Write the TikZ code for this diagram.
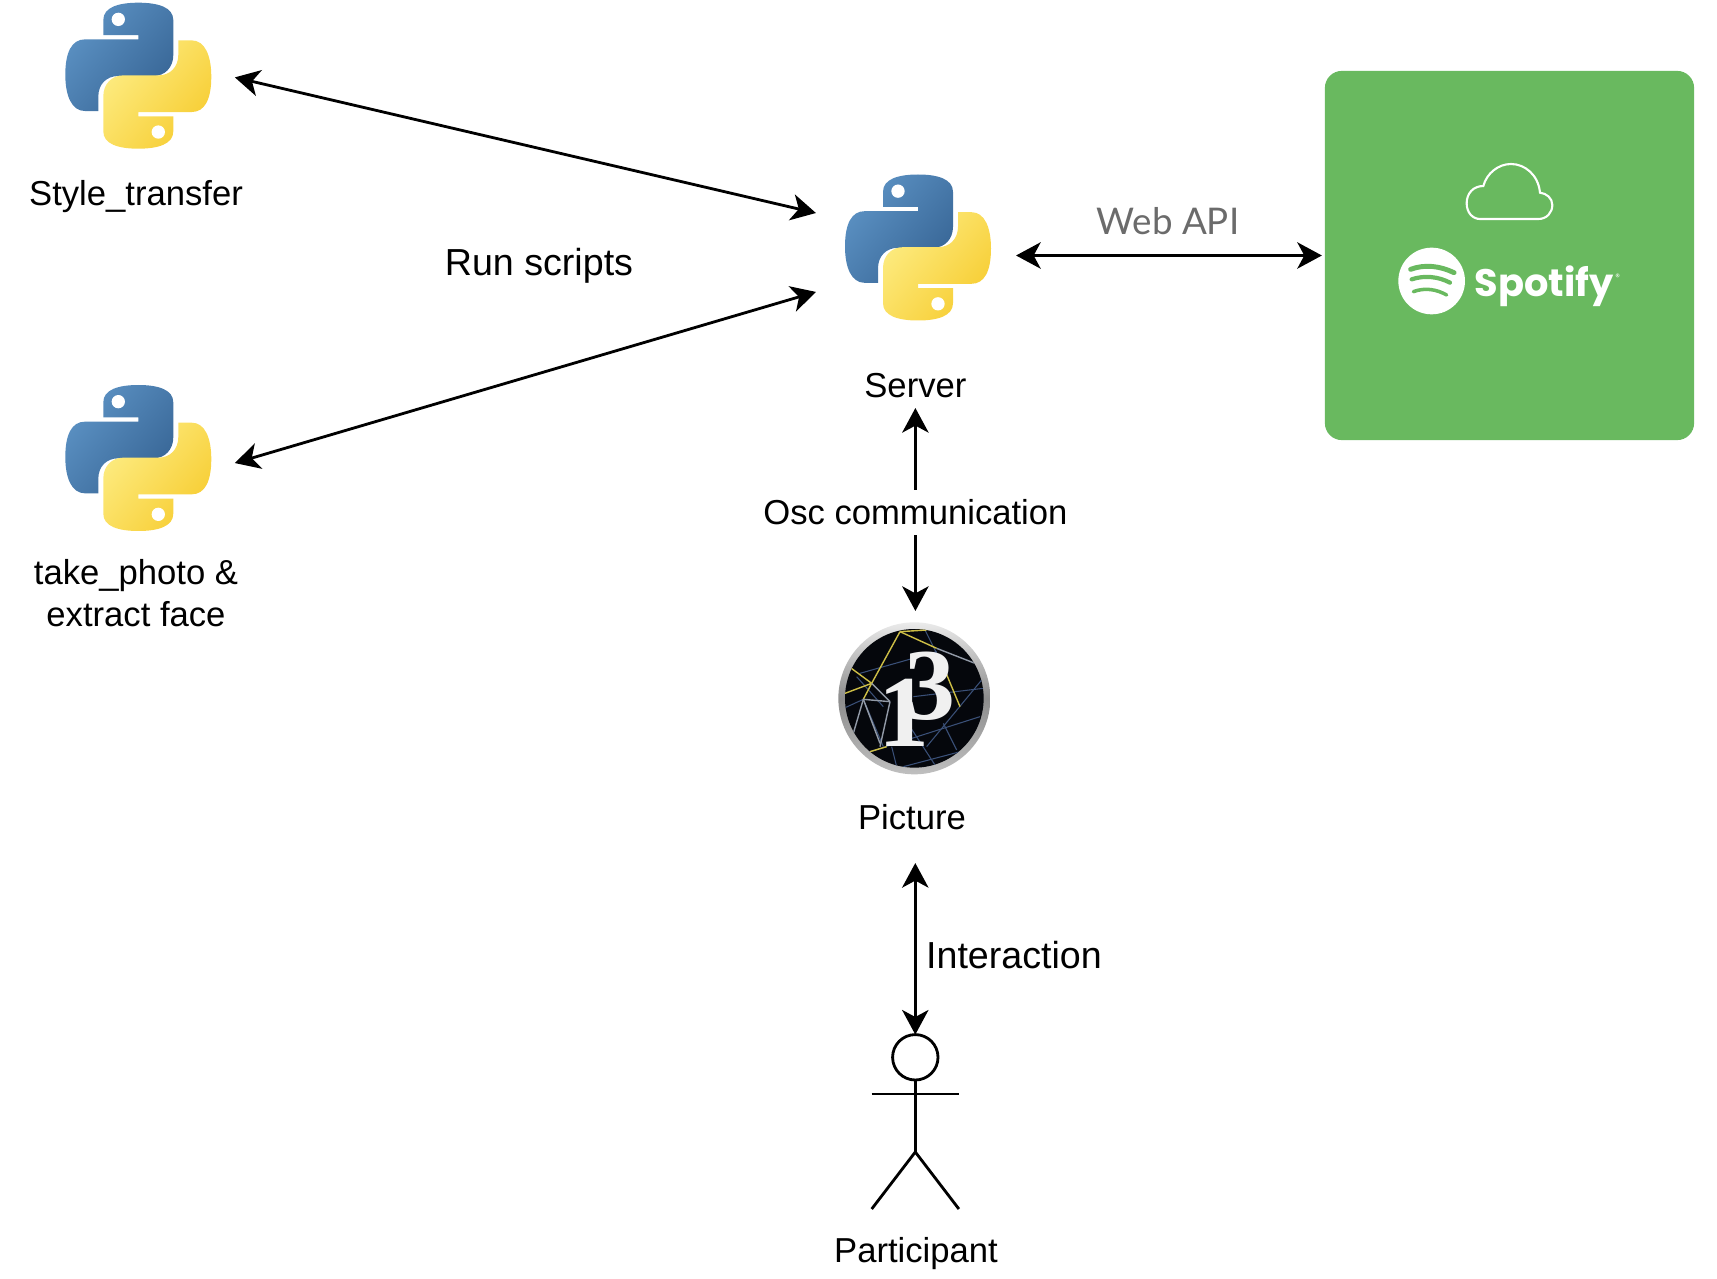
\documentclass[tikz,border=0pt]{standalone}
\usepackage{fontspec}
\setmainfont{Liberation Sans}
\newfontfamily\apifont{Lato}
\newfontfamily\spotfont{Poppins}
\newfontfamily\digitfont{Liberation Serif}
\usepackage{tikz}
\usetikzlibrary{
	positioning,    % per le etichette
	arrows.meta     % per le frecce
}
\definecolor{spotgreen}{RGB}{105,185,95}
\definecolor{pyblueA}{RGB}{92,146,196}
\definecolor{pyblueB}{RGB}{56,102,150}
\definecolor{pyyellowA}{RGB}{253,236,130}
\definecolor{pyyellowB}{RGB}{247,205,50}
\definecolor{discblack}{RGB}{5,7,12}
\definecolor{linkblue}{RGB}{58,80,120}
\definecolor{linkyellow}{RGB}{205,190,70}
% Contorno di un serpente del logo (l'altro e' lo stesso ruotato)
\def\pysnake{(-105,-122) -- (0,-122) -- (0,-109) -- (-160,-109)
	.. controls (-200,-109) and (-219,-70) .. (-219,-3)
	.. controls (-219,60) and (-200,106) .. (-160,106)
	-- (-120,106) -- (-120,63)
	.. controls (-120,25) and (-95,1) .. (-60,1) -- (45,1)
	.. controls (80,1) and (105,-25) .. (105,-62) -- (105,-167)
	.. controls (105,-205) and (60,-219) .. (0,-219)
	.. controls (-60,-219) and (-105,-205) .. (-105,-167) -- cycle}
\tikzset{
	dblarrow/.style={line width=0.8pt, {Stealth[length=7pt,width=7.5pt,inset=2pt]}-{Stealth[length=7pt,width=7.5pt,inset=2pt]}},
	onearrow/.style={line width=0.8pt, -{Stealth[length=7pt,width=7.5pt,inset=2pt]}},
	limb/.style={line width=0.8pt},
	logobox/.style={minimum width=1.93cm, minimum height=1.93cm, inner sep=0pt, outer sep=0pt},
	lab/.style={font=\fontsize{9.85pt}{12pt}\selectfont, inner sep=0pt, outer sep=0pt, align=center},
	biglab/.style={font=\fontsize{10.7pt}{13pt}\selectfont, inner sep=0pt, outer sep=0pt},
	pylogo/.pic={
		\begin{scope}[scale=1/3]
			\shade[left color=pyblueA, right color=pyblueB, shading angle=50] \pysnake;
			\begin{scope}[rotate=180]
				\shade[left color=pyyellowA, right color=pyyellowB, shading angle=50] \pysnake;
				\fill[white] (-60,-169) circle (20);
			\end{scope}
			\fill[white] (-60,-169) circle (20);
		\end{scope}
	}
}
\begin{document}
\begin{tikzpicture}[x=0.01cm, y=-0.01cm]
	\useasboundingbox (0,0) rectangle (1717,1279);

	% --- Script Python ---
	\node[logobox] (style) at (138.3,75.7) {};
	\pic at (style) {pylogo};
	\node[lab] (stylelabel) at (136,197) {Style\_transfer};

	\node[logobox] (photo) at (138.3,458) {};
	\pic at (photo) {pylogo};
	\node[lab] (photolabel) at (136,593) {take\_photo \&\\extract face};

	% Il nodo e' un po' spostato rispetto al logo, per le frecce
	\node[logobox, minimum width=2cm, minimum height=2cm] (server) at (916,255.5) {};
	\pic at (918,247.5) {pylogo};
	\node[lab, minimum height=0.44cm] (serverlabel) at (915.4,386) {Server};

	% --- Riquadro Spotify ---
	\node[fill=spotgreen, rounded corners=0.17cm, minimum width=3.69cm, minimum height=3.69cm, inner sep=0pt, outer sep=0.03cm] (spotify) at (1509.5,255.5) {};
	\begin{scope}[shift={(1320,60)}, scale=1/3]
		% Nuvola
		\draw[white, line width=0.6pt] (480,477) -- (655,477)
			.. controls (680,477) and (697,458) .. (697,435)
			.. controls (697,415) and (680,400) .. (660,398)
			.. controls (655,345) and (615,312) .. (573,312)
			.. controls (535,312) and (500,340) .. (490,378)
			.. controls (460,378) and (440,400) .. (440,430)
			.. controls (440,458) and (458,477) .. (480,477) -- cycle;
		% Cerchio con le tre onde
		\fill[white] (335,663) circle (100);
		\draw[spotgreen, line width=1.4pt, line cap=round] (272,628) .. controls (315,612) and (360,618) .. (402,638);
		\draw[spotgreen, line width=1.2pt, line cap=round] (275,658) .. controls (315,645) and (355,650) .. (390,668);
		\draw[spotgreen, line width=1pt, line cap=round] (280,695) .. controls (315,682) and (350,688) .. (380,705);
		\node[white, font=\spotfont\bfseries\fontsize{10.9pt}{12pt}\selectfont, inner sep=0pt] (spotifytext) at (673,680) {Spotify};
		\node[white, font=\spotfont\fontsize{2.6pt}{3pt}\selectfont, inner sep=0pt] (spotifymark) at (893,652) {®};
	\end{scope}
	\node[font=\apifont\fontsize{10.45pt}{13pt}\selectfont, text=black!58, inner sep=0pt] (api) at (1168,221) {Web API};

	% --- Logo Processing ---
	\node[circle, minimum size=1.74cm, inner sep=0pt, outer sep=0pt] (picture) at (914,698) {};
	\begin{scope}[shift={(820,610)}, scale=1/3]
		\shade[top color=black!8, bottom color=black!25, middle color=black!45] (283,265) circle (228);
		\fill[discblack] (283,265) circle (208);
		\begin{scope}
			\clip (283,265) circle (208);
			% Linee sottili dello sfondo
			\foreach \ax/\ay/\bx/\by in {320/410/485/210, 350/125/120/190, 130/268/190/410, 280/260/490/235,
				150/425/480/320, 370/340/410/420, 270/350/345/465, 215/410/230/470, 250/470/440/420,
				350/130/300/30, 110/200/190/290, 60/300/130/268}
				\draw[linkblue, line width=0.3pt] (\ax,\ay) -- (\bx,\by);
			\foreach \ax/\ay/\bx/\by in {240/65/155/220, 155/220/130/268, 240/65/320/60, 240/65/350/115,
				90/172/155/220, 75/250/155/220, 370/170/420/290, 150/425/200/410}
				\draw[linkyellow, line width=0.4pt] (\ax,\ay) -- (\bx,\by);
			\foreach \ax/\ay/\bx/\by in {130/268/100/370, 210/275/180/410, 130/268/210/275, 155/220/210/275,
				130/268/180/400, 350/115/465/160}
				\draw[black!35!linkblue!50!white, line width=0.4pt] (\ax,\ay) -- (\bx,\by);
		\end{scope}
		\node[text=black!6, font=\digitfont\bfseries\fontsize{29pt}{30pt}\selectfont, inner sep=0pt] (digitone) at (252,308) {1};
		\node[text=black!6, font=\digitfont\bfseries\fontsize{29pt}{30pt}\selectfont, inner sep=0pt] (digitthree) at (329,229) {3};
	\end{scope}
	\node[lab, minimum height=0.92cm] (picturelabel) at (912,817) {Picture};

	% --- Omino ---
	\node[draw, circle, line width=0.8pt, minimum size=0.454cm, inner sep=0pt, outer sep=0pt] (actor) at (915.3,1057.3) {};
	\coordinate (hip) at (915.3,1152);
	\coordinate (armL) at (871.7,1094);
	\coordinate (armR) at (958.9,1094);
	\coordinate (footL) at (871.7,1209);
	\coordinate (footR) at (958.9,1209);
	\draw[limb] (actor.south) -- (hip);
	\draw[limb] (armL) -- (armR);
	\draw[limb] (footL) -- (hip) -- (footR);
	\node[lab] (actorlabel) at (916,1254) {Participant};

	% --- Etichette centrali ---
	\node[biglab] (runlabel) at (539,266) {Run scripts};
	\node[lab, minimum height=0.45cm] (osc) at (915.4,512.5) {Osc communication};
	\node[biglab] (interaction) at (1014,955) {Interaction};

	% --- Frecce ---
	\draw[dblarrow] (style.-1.5) -- (server.157.5);
	\draw[dblarrow] (photo.-3.5) -- (server.200.3);
	\draw[dblarrow] (server.east) -- (spotify.west);
	\draw[onearrow] (osc.north) -- (serverlabel.south);
	\draw[onearrow] (osc.south) -- (osc.south |- picture.north);
	\draw[dblarrow] (actor.north |- picturelabel.south) -- (actor.north);
\end{tikzpicture}
\end{document}
